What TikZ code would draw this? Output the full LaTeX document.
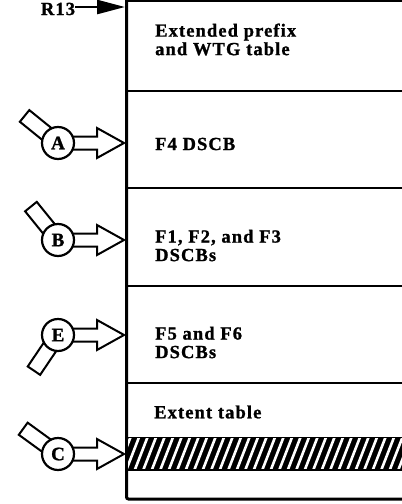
\documentclass[tikz,border=0pt]{standalone}
\usepackage{fontspec}
\newfontfamily\lblfont[LetterSpace=6, BoldFeatures={FakeBold=1.2}]{Liberation Serif}
\usetikzlibrary{arrows.meta,calc}
\tikzset{
  lbl/.style={font=\lblfont\bfseries\fontsize{18.5}{18.5}\selectfont, inner sep=0pt, align=left},
  circ/.style={circle, draw, line width=2.2pt, fill=white, minimum size=32pt, inner sep=0pt,
    font=\lblfont\bfseries\fontsize{19}{19}\selectfont},
  tabst/.style={draw, line width=2pt, fill=white},
  harrow/.style={draw, line width=2pt, line join=miter},
  divider/.style={line width=2.2pt},
  boxedge/.style={line width=3pt}
}
\begin{document}
\begin{tikzpicture}[x=1pt,y=-1pt]
\useasboundingbox (0,0) rectangle (402,504);
% box
\draw[divider] (126.5,1) -- (402,1);
\draw[boxedge, rounded corners=2pt] (126.5,0) -- (126.5,499) -- (402,499);
\foreach \yy in {91,188,286,383} \draw[divider] (126.5,\yy) -- (402,\yy);
% hatched band
\fill[black] (126.5,436.5) rectangle (402,470.5);
\begin{scope}
  \clip (128,438.5) rectangle (402,468.5);
  \foreach \xx in {100,108.5,...,430} \draw[white, line width=2.6pt] (\xx,472) -- (\xx+14,436);
\end{scope}
% texts
\node[lbl, anchor=west] (t1) at (155,39.5) {Extended prefix\\and WTG table};
\node[lbl, anchor=west] (t2) at (155,144) {F4 DSCB};
\node[lbl, anchor=west] (t3) at (155,245.5) {F1, F2, and F3\\DSCBs};
\node[lbl, anchor=west] (t4) at (155,342.5) {F5 and F6\\DSCBs};
\node[lbl, anchor=west] (t5) at (154,412) {Extent table};
% R13
\node[lbl, anchor=base] (r13) at (58,15) {R13};
\coordinate (boxtop) at (125,7);
\draw[line width=2.6pt, -{Triangle[length=28pt,width=14pt]}] (r13.east |- boxtop) -- (boxtop);
% markers
\foreach \n/\yy/\ang in {A/143/141, B/240/129, E/335/236, C/454/144} {
  \draw[tabst, rotate around={\ang:(58,\yy)}] (58,\yy-7.5) rectangle ++(43,15);
  \node[circ] (\n) at (58,\yy) {\n};
  \coordinate (t\n) at (124,\yy);
  \draw[harrow] ($(\n.east)+(-2.2,-6.5)$) -- ($(t\n)+(-27,-6.5)$) -- ($(t\n)+(-27,-15)$)
     -- (t\n) -- ($(t\n)+(-27,15)$) -- ($(t\n)+(-27,6.5)$) -- ($(\n.east)+(-2.2,6.5)$);
}
\end{tikzpicture}
\end{document}
